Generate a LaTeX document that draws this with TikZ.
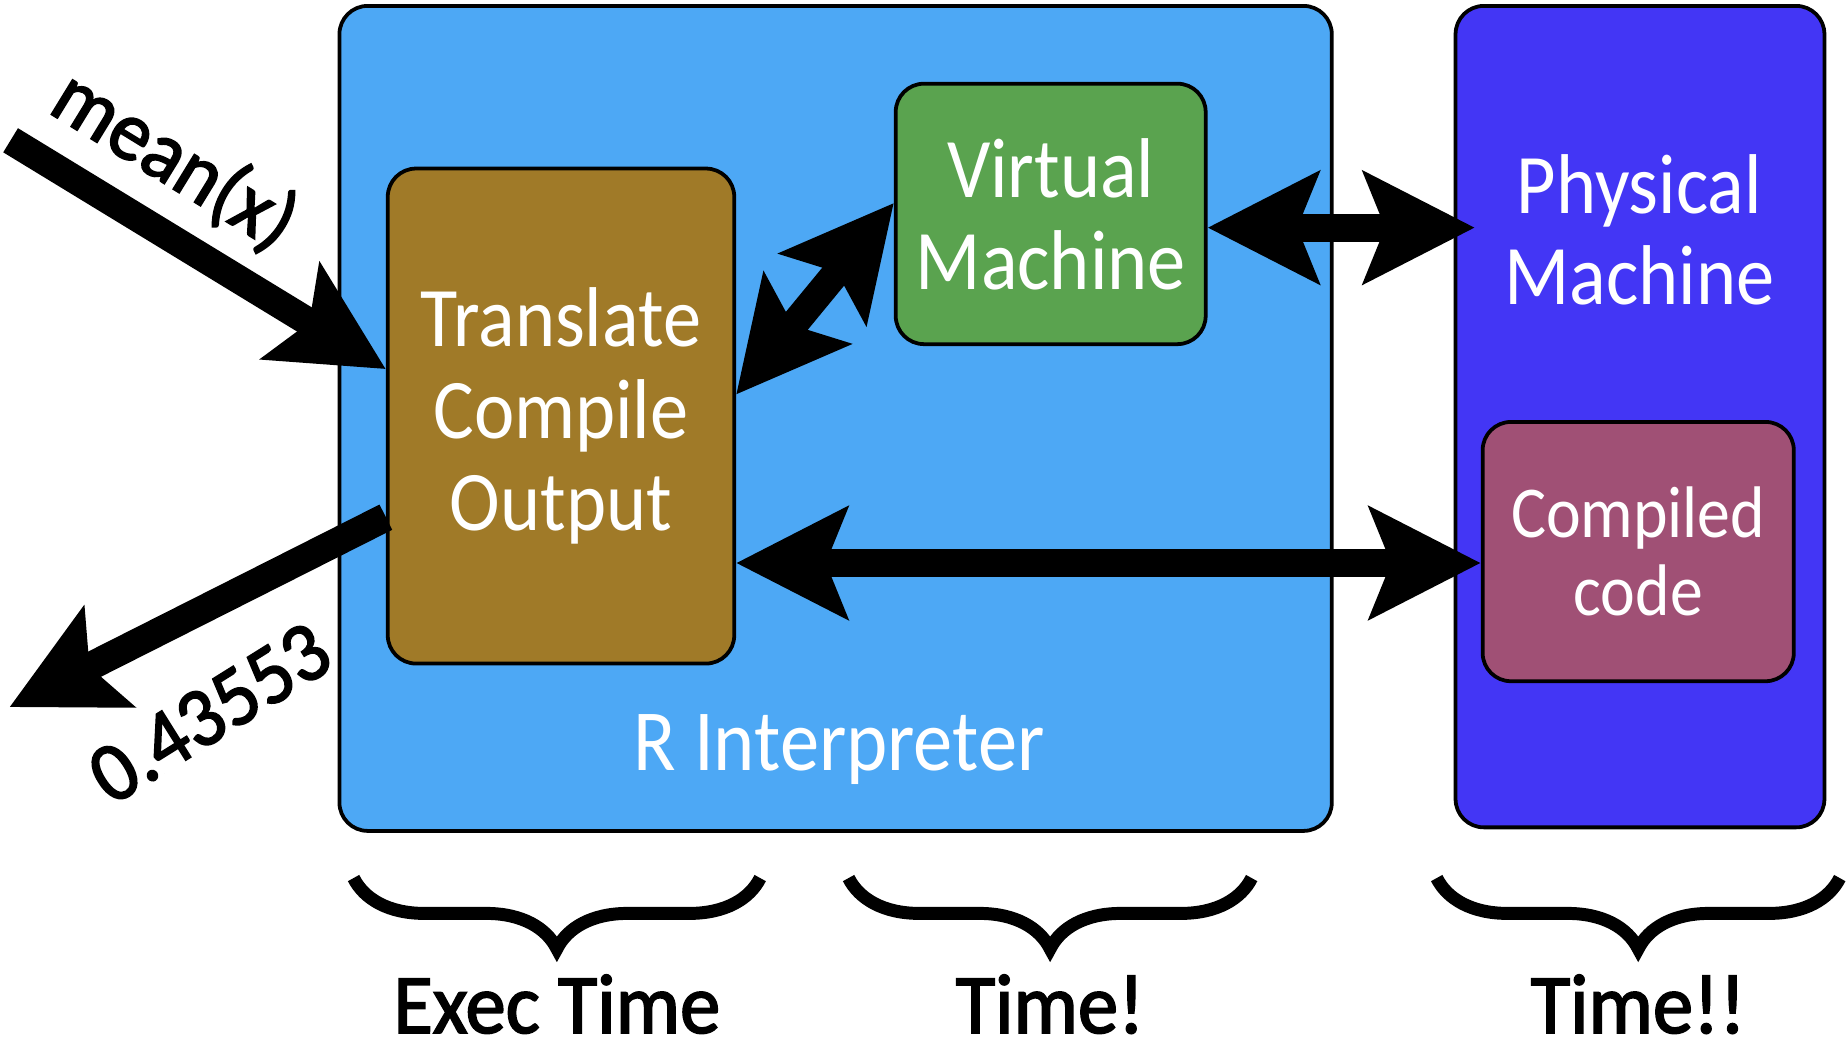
\documentclass[tikz,border=0pt]{standalone}
\usepackage{fontspec}
\setmainfont{Carlito}[FakeStretch=0.9]
\newfontfamily\labelfont{Carlito}[FakeStretch=0.95,FakeBold=2]
\usetikzlibrary{arrows.meta,decorations.pathreplacing}

\definecolor{interpblue}{RGB}{77,168,245}
\definecolor{physblue}{RGB}{67,54,245}
\definecolor{transbrown}{RGB}{160,122,40}
\definecolor{vmgreen}{RGB}{90,163,79}
\definecolor{codepurple}{RGB}{160,80,117}

\tikzset{bighead/.tip={Stealth[length=47pt,width=47pt,inset=9pt]}}

\begin{document}
\begin{tikzpicture}[x=0.5pt,y=-0.5pt,
  box/.style={draw=black,line width=1.6pt,rounded corners=12pt,inner sep=0pt},
  boxtext/.style={text=white,align=center,font=\fontsize{36}{39}\selectfont},
  bigarrow/.style={line width=12pt,-bighead},
  bigdouble/.style={line width=12pt,bighead-bighead},
  timebrace/.style={line width=5.5pt,decorate,decoration={brace,mirror,amplitude=30pt}},
  timelabel/.style={font=\labelfont\fontsize{36}{39}\selectfont}]
\useasboundingbox (0,0) rectangle (1568,901);

% Outer boxes
\node[box,fill=interpblue,minimum width=421pt,minimum height=350pt] (interp) at (709,355) {};
\node[box,fill=physblue,minimum width=156.5pt,minimum height=348.5pt] (phys) at (1391.5,353.5) {};
\node[boxtext,font=\fontsize{37}{39}\selectfont] (interplbl) at (712,636) {R Interpreter};
\node[boxtext] (physlbl) at (1391,195) {Physical\\Machine};

% Inner boxes
\node[box,boxtext,fill=transbrown,minimum width=147pt,minimum height=210pt] (trans) at (476,353) {Translate\\Compile\\Output};
\node[box,boxtext,fill=vmgreen,minimum width=131.5pt,minimum height=110.5pt] (vm) at (891.5,181.5) {Virtual\\Machine};
\node[box,boxtext,fill=codepurple,minimum width=132pt,minimum height=110pt,font=\fontsize{31}{33}\selectfont] (comp) at (1390,468) {Compiled\\code};

% Input and result
\coordinate (meanstart) at (9,119);
\coordinate (outend) at (8,600);
\draw[bigarrow] (meanstart) -- (trans.165);
\draw[bigarrow] (trans.210) -- (outend);
\node[timelabel,rotate=-31.5] (meanlbl) at (148,136) {mean(x)};
\node[timelabel,rotate=32] (resultlbl) at (178,605) {0.43553};

% Connections
\draw[bigdouble] (trans.7) -- (vm.176);
\draw[bigdouble,shorten >=-9pt] (vm.-5) -- (vm.-5 -| phys.west);
\draw[bigdouble] (trans.-40) -- (trans.-40 -| comp.west);

% Braces
\foreach \a/\b/\lbl/\nm in {300/645/Exec Time/exectime, 720/1062/Time!/vmtime, 1219/1561/Time!!/phystime} {
    \draw[timebrace] (\a,745) -- (\b,745);
    \node[timelabel] (\nm) at ({(\a+\b)/2},852) {\lbl};
}
\end{tikzpicture}
\end{document}
